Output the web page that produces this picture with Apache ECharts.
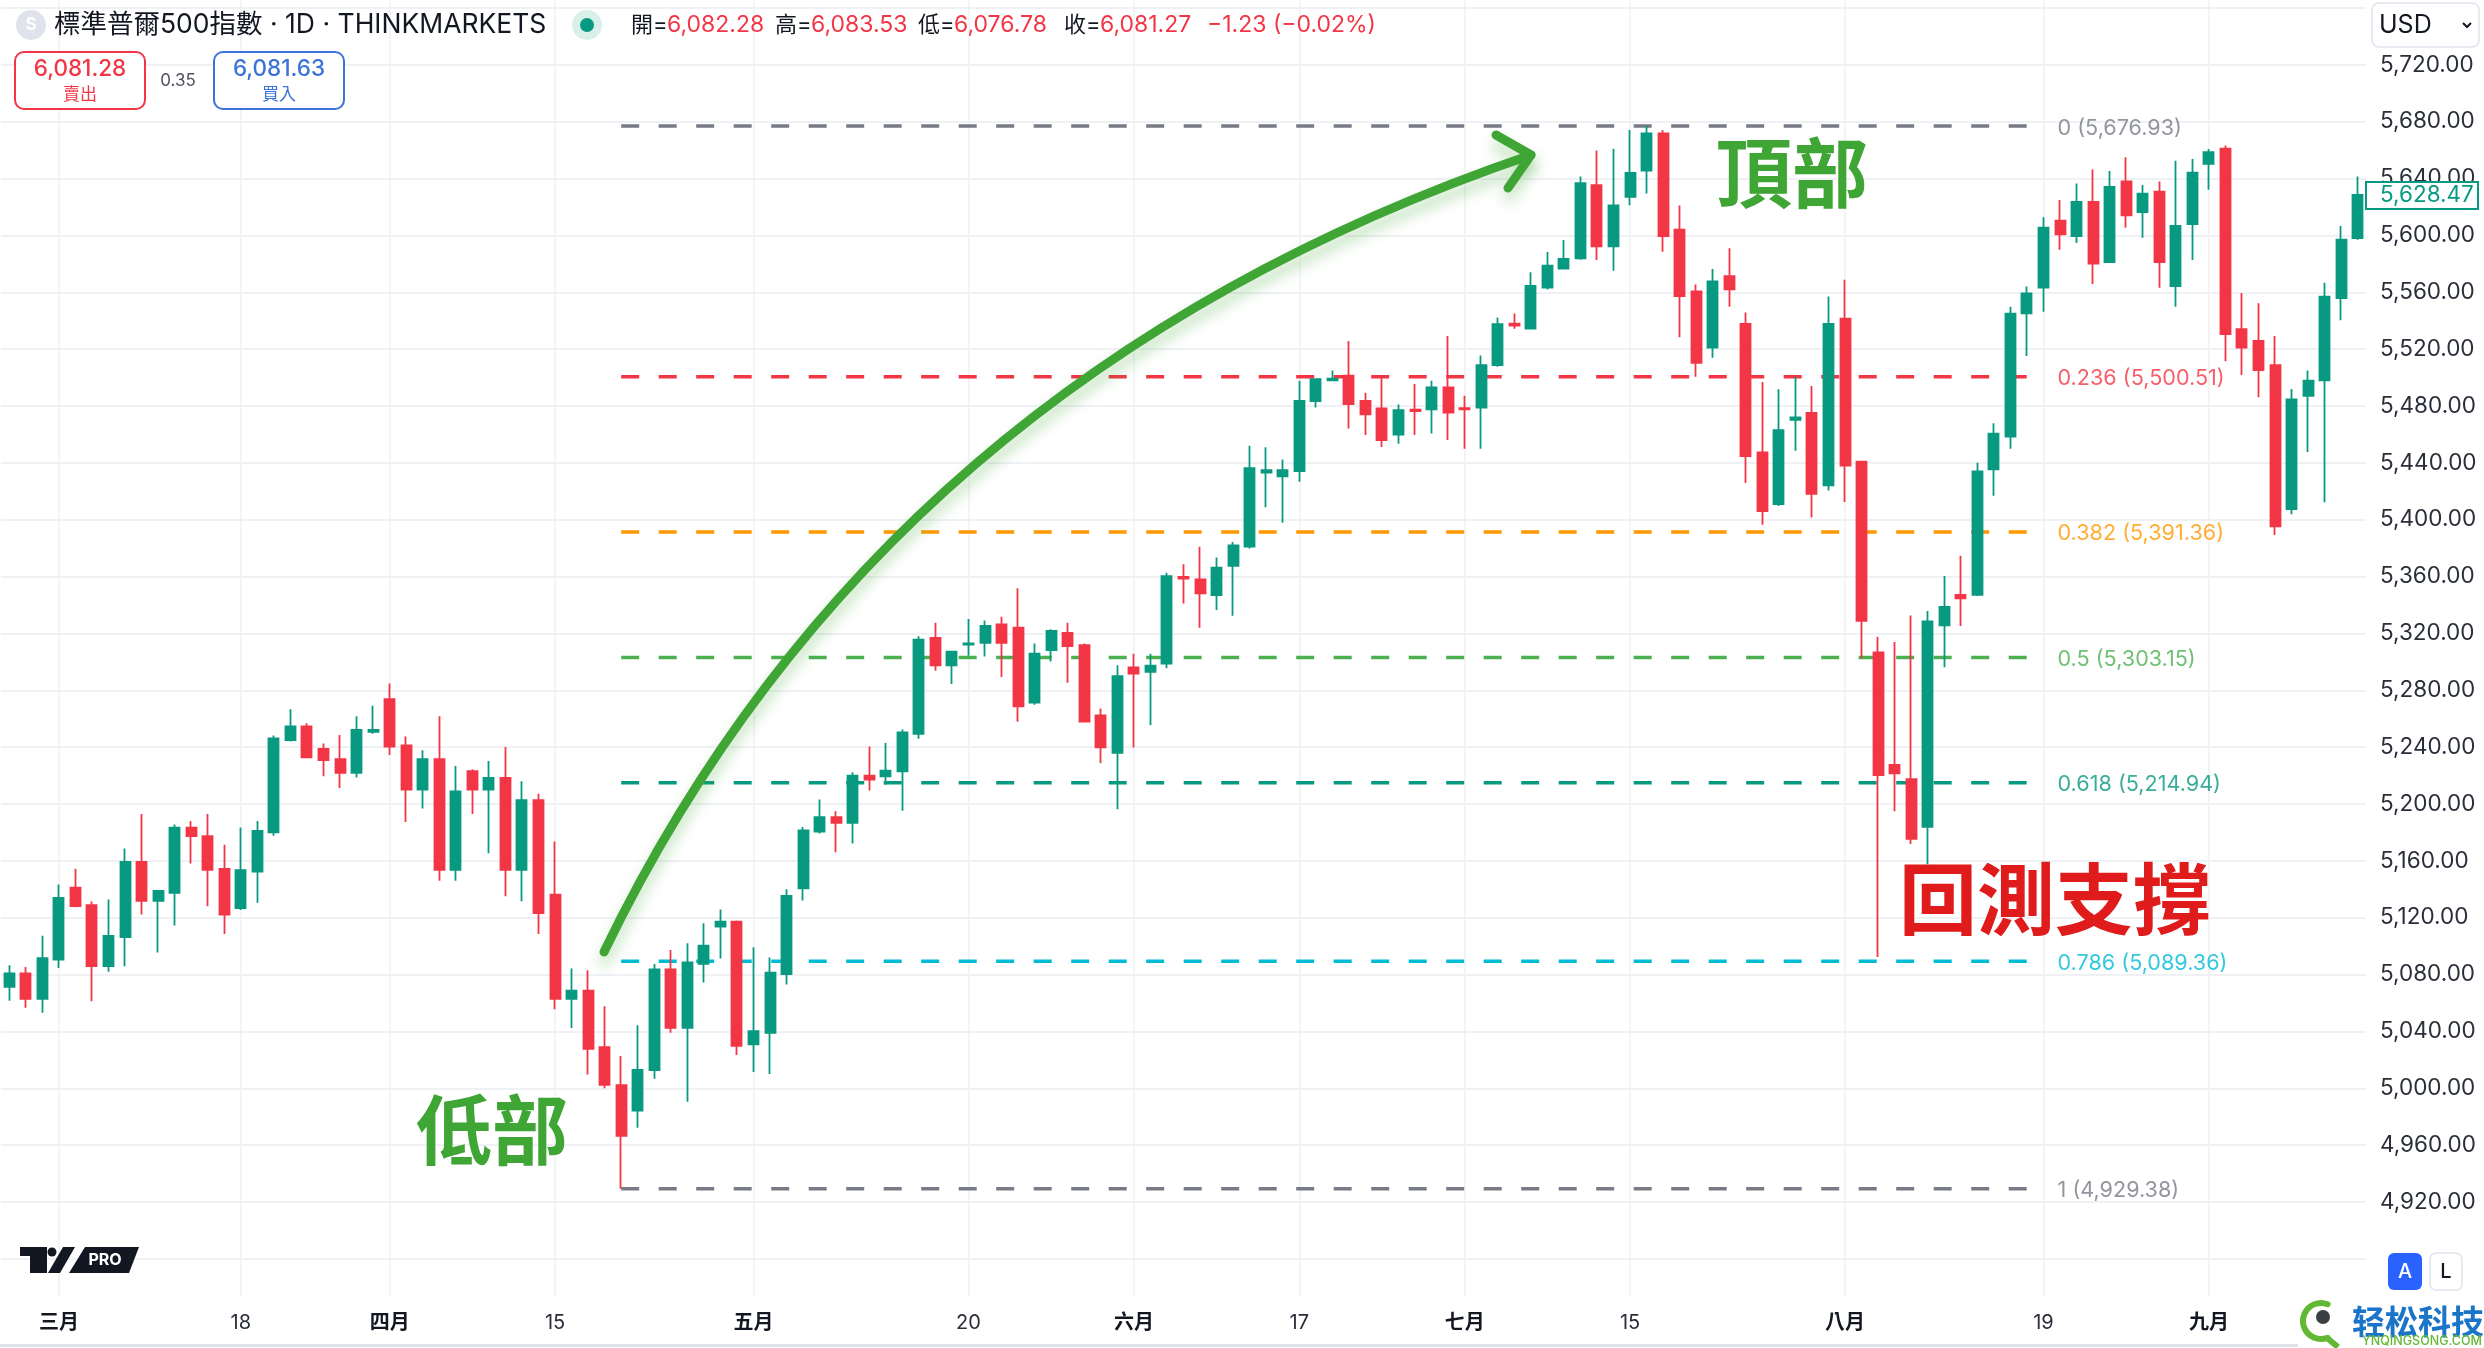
<!DOCTYPE html>
<html>
  <head>
    <meta charset="utf-8" />
    <title>標準普爾500指數 1D</title>
    <script src="https://cdn.jsdelivr.net/npm/echarts@6/dist/echarts.min.js"></script>
    <style>
      html, body { margin: 0; padding: 0; background: #fff; }
    </style>
  </head>
  <body>
    <div id="main" style="width: 2484px; height: 1348px"></div>
    <script type="text/javascript">
      // daily candles
      const opens = [
        5071.3, 5080.8, 5062.9, 5090.5, 5141.1, 5128.8, 5085.9, 5106.3, 5159.3, 5131.9,
        5137.5, 5183.3, 5177.4, 5154.4, 5126.8, 5152.4, 5180, 5244.9, 5254.6, 5238.8,
        5231.6, 5221.9, 5250.8, 5273.8, 5241.3, 5210.1, 5231.6, 5153.6, 5223.2, 5210.1,
        5218.3, 5153.6, 5202.7, 5136.2, 5062.9, 5068.7, 5028.9, 5002.3, 4984.4, 5012.9,
        5083.7, 5042.6, 5087.6, 5113.8, 5117.3, 5030.9, 5039.1, 5080.3, 5140.7, 5180.6,
        5190.8, 5186.7, 5220, 5219.4, 5222.9, 5249.4, 5316.8, 5297.6, 5312.1, 5313.3,
        5326.4, 5324.1, 5271.3, 5308.3, 5320.3, 5311.8, 5262.3, 5236, 5296.1, 5292.9,
        5298.7, 5359.7, 5358, 5347, 5367.6, 5381, 5433.1, 5430.5, 5434.2, 5483.5,
        5498, 5501.3, 5483.5, 5478.3, 5459.8, 5477.4, 5477.6, 5493.1, 5478.5, 5478.8,
        5508.8, 5537.9, 5534.4, 5563.2, 5576.6, 5583.8, 5635.4, 5592.3, 5627.2, 5645.5,
        5671.8, 5604, 5560.6, 5521, 5571.4, 5537.7, 5447.3, 5410.9, 5470.3, 5475.1,
        5424.2, 5541.4, 5440.8, 5306.7, 5227.6, 5217.5, 5184, 5325.7, 5347.1, 5347.1,
        5435.4, 5458.4, 5545.1, 5563.2, 5610.3, 5599.5, 5623.5, 5581.2, 5638, 5616.4,
        5630.7, 5564.4, 5608, 5650.4, 5661, 5534.1, 5525.7, 5508.8, 5407.5, 5487.2,
        5498, 5555.9, 5598.1
      ];
      const closes = [
        5080.8, 5062.9, 5091.5, 5133.9, 5128.1, 5085.9, 5107.3, 5159.3, 5131.9, 5138.8,
        5183.3, 5177.4, 5153.6, 5122.2, 5153.4, 5181, 5246.2, 5254.6, 5232.9, 5230.9,
        5221.9, 5252.1, 5252.1, 5240.3, 5210.1, 5231.6, 5153.6, 5208.9, 5210.1, 5218.3,
        5153.6, 5202.7, 5123.2, 5062.9, 5068.7, 5027.8, 5002.5, 4966.5, 5013, 5083.7,
        5042.6, 5088.6, 5100.4, 5117.3, 5029.8, 5040.3, 5081.3, 5135.4, 5181.5, 5190.8,
        5186.7, 5220, 5217.1, 5223.5, 5250.3, 5315.6, 5297.6, 5307.2, 5313, 5325.3,
        5313.3, 5268.7, 5305.7, 5321.8, 5311, 5257.9, 5239.8, 5290, 5291.7, 5297.3,
        5360.3, 5358.5, 5348.2, 5366.2, 5381.9, 5436.3, 5434.9, 5434.9, 5483.5, 5498.9,
        5499.2, 5481.4, 5474.1, 5456, 5477.1, 5476.4, 5493.1, 5475.3, 5477.6, 5508.8,
        5537.6, 5536.5, 5564.4, 5578.7, 5583.4, 5636.8, 5592.3, 5621.1, 5643.9, 5671.8,
        5599.5, 5557.3, 5510.4, 5567.6, 5562, 5444.8, 5406.1, 5463, 5471.9, 5418.2,
        5537.7, 5438, 5328.9, 5220.3, 5221.5, 5175.5, 5328.5, 5338.6, 5344.7, 5433.9,
        5460.5, 5544.9, 5559.2, 5605.4, 5600.7, 5623.5, 5580.1, 5634.2, 5614.1, 5629.3,
        5581.2, 5606.6, 5644.1, 5658.6, 5530.6, 5521, 5505.3, 5395.3, 5484.6, 5497.8,
        5556.9, 5597, 5628.47
      ];
      const lows = [
        5061.6, 5056.7, 5053.1, 5084.6, 5127.3, 5061.3, 5082, 5085.9, 5122.2, 5095.6,
        5114.5, 5158.2, 5128.1, 5108.6, 5125.5, 5130.6, 5177.7, 5243.9, 5232.9, 5219.6,
        5211.2, 5218.6, 5249.5, 5234.4, 5187.4, 5196.8, 5146, 5146, 5193, 5165.4,
        5135.2, 5131.6, 5108.6, 5055.7, 5042.4, 5009.7, 5000, 4929.4, 4972.3, 5006.8,
        5039.1, 4990.6, 5074.5, 5091.4, 5023.4, 5011.5, 5010, 5073, 5132.2, 5179.2,
        5166, 5172.2, 5209.5, 5213.6, 5195.2, 5245.9, 5293.8, 5284.4, 5304.3, 5303.7,
        5289.4, 5257.9, 5269.9, 5300.2, 5285.3, 5257.3, 5228.7, 5196.4, 5239.8, 5255.6,
        5295.5, 5341, 5324, 5336.5, 5332.5, 5379.8, 5408.7, 5397.9, 5426.7, 5479,
        5498, 5464.2, 5459.6, 5451.1, 5453.5, 5459.6, 5460.7, 5456, 5449.9, 5449.9,
        5507.6, 5534.4, 5533.9, 5562, 5576.6, 5582.9, 5582.7, 5575.2, 5621.3, 5629.5,
        5588.5, 5528.3, 5500.6, 5514, 5549.8, 5425.9, 5396.4, 5409.7, 5448.5, 5401.6,
        5420.6, 5412.5, 5302.7, 5092.3, 5194.9, 5171.9, 5157.7, 5296.2, 5325.3, 5346.3,
        5416.9, 5449.9, 5515.1, 5546.3, 5589.9, 5594.6, 5565.8, 5580.8, 5605.4, 5598.4,
        5563.2, 5549.8, 5582.7, 5632.1, 5511.4, 5501.8, 5486.1, 5389.2, 5403.8, 5447.6,
        5412.2, 5540.4, 5597
      ];
      const highs = [
        5086.6, 5085.4, 5107.3, 5143.4, 5154.4, 5131.4, 5132.9, 5168.7, 5193, 5138.8,
        5185.6, 5188.1, 5193, 5171.3, 5183.5, 5188.1, 5248.2, 5266.6, 5256.9, 5242.6,
        5248.5, 5261.8, 5269.2, 5284.8, 5247.5, 5237.8, 5261.8, 5226.8, 5224.5, 5230.3,
        5240.1, 5216, 5207.3, 5173.6, 5084.3, 5083.1, 5057.7, 5022.7, 5044.4, 5087.4,
        5097.3, 5102, 5116.2, 5125.8, 5118, 5099.2, 5092.1, 5140.1, 5183.8, 5203.1,
        5194.9, 5222.3, 5240.4, 5243, 5252.4, 5318, 5327.6, 5307.2, 5330.2, 5329.1,
        5331.7, 5351.8, 5313, 5322.9, 5327.6, 5313, 5267.2, 5297.6, 5305.7, 5305.7,
        5362.6, 5368.7, 5381, 5373.5, 5384.3, 5452.1, 5450.9, 5442.4, 5497.8, 5499.4,
        5505, 5525.7, 5489.3, 5500.6, 5481.1, 5495.4, 5497.8, 5529.2, 5487.2, 5515.6,
        5542.3, 5545.1, 5574, 5588.3, 5596.7, 5641.5, 5659.8, 5661, 5674.1, 5676.9,
        5674.1, 5621.1, 5565.5, 5576.3, 5590.9, 5545.8, 5496.9, 5491.7, 5500.6, 5494.1,
        5557.1, 5568.8, 5440.8, 5317.6, 5314, 5332.6, 5335.8, 5360.4, 5374.6, 5440,
        5467.8, 5549.8, 5564.1, 5612.7, 5624.9, 5636.6, 5646.4, 5645.3, 5654.9, 5635.4,
        5638, 5652.5, 5653.7, 5660.7, 5663.3, 5559.4, 5552.2, 5529.2, 5491.9, 5505,
        5566.7, 5606.6, 5641.5
      ];

      // time axis
      const tickIndex = [3, 14, 23, 33, 45, 58, 68, 78, 88, 98, 111, 123, 133];
      const tickLabels = ['三月', '18', '四月', '15', '五月', '20', '六月', '17', '七月', '15', '八月', '19', '九月'];

      // price axis
      const priceGrid = [4880, 4920, 4960, 5000, 5040, 5080, 5120, 5160, 5200, 5240, 5280, 5320, 5360,
        5400, 5440, 5480, 5520, 5560, 5600, 5640, 5680, 5720, 5760];
      const priceLabels = [4920, 4960, 5000, 5040, 5080, 5120, 5160, 5200, 5240, 5280, 5320, 5360,
        5400, 5440, 5480, 5520, 5560, 5600, 5640, 5680, 5720];

      // fibonacci retracement
      const fibRatios = ['0', '0.236', '0.382', '0.5', '0.618', '0.786', '1'];
      const fibPrices = [5676.93, 5500.51, 5391.36, 5303.15, 5214.94, 5089.36, 4929.38];
      const fibColors = ['#787b86', '#f23645', '#ff9800', '#4caf50', '#089981', '#00bcd4', '#787b86'];
      const fibStart = 37;
      const fibEnd = 122.7;

      const UP = '#089981';
      const DOWN = '#f23645';
      const INK = '#131722';
      const FONT = 'Inter, "Noto Sans CJK TC", sans-serif';

      const categories = opens.map(function (v, i) {
        const k = tickIndex.indexOf(i);
        return k >= 0 ? tickLabels[k] : '';
      });
      const candles = opens.map(function (v, i) {
        return [v, closes[i], lows[i], highs[i]];
      });
      const showTick = function (i) {
        return tickIndex.indexOf(i) >= 0;
      };

      function money(v) {
        return v.toLocaleString('en-US', { minimumFractionDigits: 2, maximumFractionDigits: 2 });
      }

      const fibSeries = fibPrices.map(function (p, i) {
        return {
          type: 'line',
          xAxisIndex: 1,
          yAxisIndex: 0,
          z: 1,
          silent: true,
          showSymbol: false,
          symbol: 'none',
          clip: false,
          data: [[fibStart, p], [fibEnd, p]],
          lineStyle: { color: fibColors[i], width: 3.5, type: [18, 19.5] },
          endLabel: {
            show: true,
            distance: 19,
            offset: [0, 2],
            color: fibColors[i],
            opacity: 0.8,
            fontFamily: FONT,
            fontSize: 21.6,
            formatter: fibRatios[i] + ' (' + money(p) + ')'
          }
        };
      });

      function txt(text, x, y, font, fill, align, extra) {
        return {
          type: 'text',
          z: 100,
          style: Object.assign({
            text: text, x: x, y: y, font: font + ' ' + FONT, fill: fill,
            textAlign: align || 'left', textVerticalAlign: 'middle'
          }, extra || {})
        };
      }
      function box(x, y, w, h, r, fill, stroke, lw) {
        return {
          type: 'rect', z: 99,
          shape: { x: x, y: y, width: w, height: h, r: r },
          style: { fill: fill, stroke: stroke, lineWidth: lw || 0 }
        };
      }
      const glow = { shadowBlur: 14, shadowColor: 'rgba(63,165,53,0.45)', shadowOffsetY: 10 };
      const arrowStyle = { stroke: '#3fa535', fill: null, lineWidth: 9, lineCap: 'round', lineJoin: 'round',
        shadowBlur: 14, shadowColor: 'rgba(63,165,53,0.35)', shadowOffsetY: 10 };

      const deco = [
        // header
        { type: 'circle', z: 99, shape: { cx: 31, cy: 25, r: 15 }, style: { fill: '#e0e3eb' } },
        txt('S', 31, 25, '700 17px', '#ffffff', 'center'),
        txt('標準普爾500指數 · 1D · THINKMARKETS', 54, 25, '400 26.5px', INK),
        { type: 'circle', z: 99, shape: { cx: 587, cy: 25, r: 15 }, style: { fill: '#d9f0ea' } },
        { type: 'circle', z: 99, shape: { cx: 587, cy: 25, r: 7 }, style: { fill: UP } },
        txt('開=', 631, 25, '400 22px', INK),
        txt('6,082.28', 667, 25, '400 23px', DOWN),
        txt('高=', 775, 25, '400 22px', INK),
        txt('6,083.53', 811, 25, '400 23px', DOWN),
        txt('低=', 918, 25, '400 22px', INK),
        txt('6,076.78', 954, 25, '400 23px', DOWN),
        txt('收=', 1064, 25, '400 22px', INK),
        txt('6,081.27', 1100, 25, '400 23px', DOWN),
        txt('−1.23 (−0.02%)', 1207, 25, '400 23px', DOWN),
        // sell / buy
        box(15, 52, 130, 57, 9, '#ffffff', DOWN, 2),
        txt('6,081.28', 80, 69, '500 22.5px', DOWN, 'center'),
        txt('賣出', 80, 95, '400 17px', DOWN, 'center'),
        txt('0.35', 178, 81, '400 17px', '#50535e', 'center'),
        box(214, 52, 130, 57, 9, '#ffffff', '#3b73d9', 2),
        txt('6,081.63', 279, 69, '500 22.5px', '#3b73d9', 'center'),
        txt('買入', 279, 95, '400 17px', '#3b73d9', 'center'),
        // currency button
        box(2372, 3, 107, 44, 7, '#ffffff', '#e0e3eb', 1.5),
        txt('USD', 2379, 25, '400 25px', INK),
        { type: 'polyline', z: 100, shape: { points: [[2463, 23], [2467, 27], [2471, 23]] },
          style: { stroke: INK, fill: null, lineWidth: 2 } },
        // last price tag
        box(2366, 182, 112, 27, 0, '#ffffff', UP, 2),
        txt(money(closes[closes.length - 1]), 2380, 195.5, '400 22.5px', UP),
        // trend arrow
        { type: 'bezierCurve', z: 90, shape: { x1: 604, y1: 952, cpx1: 790, cpy1: 567, cpx2: 1099, cpy2: 302, x2: 1531, y2: 155 },
          style: arrowStyle },
        { type: 'polyline', z: 90, shape: { points: [[1496, 135], [1531, 155], [1508, 188]] }, style: arrowStyle },
        // hand written notes
        txt('頂部', 1792, 179, '700 76px', '#3fa535', 'center', glow),
        txt('低部', 492, 1136, '700 76px', '#3fa535', 'center', glow),
        txt('回測支撐', 2055, 906, '700 78px', '#e01b1b', 'center'),
        // tradingview logo
        { type: 'polygon', z: 99, shape: { points: [[20, 1247], [47, 1247], [47, 1273], [30, 1273], [30, 1256], [20, 1256]] }, style: { fill: INK } },
        { type: 'circle', z: 99, shape: { cx: 52, cy: 1252, r: 4.5 }, style: { fill: INK } },
        { type: 'polygon', z: 99, shape: { points: [[63, 1247], [75, 1247], [60, 1273], [48, 1273]] }, style: { fill: INK } },
        { type: 'polygon', z: 99, shape: { points: [[85, 1247], [139, 1247], [129, 1273], [69, 1273]] }, style: { fill: INK } },
        txt('PRO', 105, 1260, '700 16px', '#ffffff', 'center'),
        // A / L buttons
        box(2388, 1253, 34, 37, 6, '#2962ff', '#2962ff', 0),
        txt('A', 2405, 1272, '500 20px', '#ffffff', 'center'),
        box(2430, 1253, 32, 37, 6, '#ffffff', '#e0e3eb', 1.5),
        txt('L', 2446, 1272, '500 20px', INK, 'center'),
        // bottom rule + site mark
        box(0, 1344, 2484, 3, 0, '#e0e3eb', '#e0e3eb', 0),
        box(2298, 1298, 186, 50, 0, '#ffffff', '#ffffff', 0),
        { type: 'arc', z: 100, shape: { cx: 2321, cy: 1321, r: 18, startAngle: Math.PI * 0.38, endAngle: Math.PI * 1.62, clockwise: true },
          style: { fill: null, stroke: '#62b833', lineWidth: 6, lineCap: 'round' } },
        { type: 'polyline', z: 100, shape: { points: [[2327, 1338], [2338, 1347]] }, style: { fill: null, stroke: '#62b833', lineWidth: 6 } },
        { type: 'circle', z: 100, shape: { cx: 2323, cy: 1317, r: 7 }, style: { fill: '#3a3f45' } },
        txt('轻松科技', 2418, 1321, '700 33px', '#1a74c8', 'center', { font: '700 33px "Noto Sans CJK SC", sans-serif' }),
        txt('YNQINGSONG.COM', 2422, 1341, '500 12.5px', '#62b833', 'center')
      ];

      const option = {
        backgroundColor: '#ffffff',
        animation: false,
        grid: { left: 1, top: 0, width: 2365, height: 1296 },
        xAxis: [
          {
            type: 'category',
            data: categories,
            boundaryGap: true,
            axisLine: { show: false },
            axisTick: { show: false, alignWithLabel: true, interval: showTick },
            axisLabel: {
              interval: showTick,
              margin: 17,
              formatter: function (v) {
                return v.indexOf('月') >= 0 ? '{m|' + v + '}' : '{d|' + v + '}';
              },
              rich: {
                m: { fontFamily: FONT, fontSize: 20, fontWeight: 600, color: INK },
                d: { fontFamily: FONT, fontSize: 20, color: '#2a2e39' }
              }
            },
            splitLine: { show: true, alignWithLabel: true, interval: showTick, lineStyle: { color: '#f0f1f5', width: 1.5 } }
          },
          { type: 'value', min: -0.5, max: 142.5, show: false, splitLine: { show: false } }
        ],
        yAxis: {
          type: 'value',
          position: 'right',
          min: 4853.9,
          max: 5765.6,
          axisLine: { show: false },
          axisTick: { show: false, customValues: priceGrid },
          splitLine: { show: true, lineStyle: { color: '#f0f1f5', width: 2 } },
          axisLabel: {
            customValues: priceLabels,
            margin: 14,
            color: '#2a2e39',
            fontFamily: FONT,
            fontSize: 22.5,
            formatter: function (v) {
              return money(v);
            }
          }
        },
        series: [
          {
            type: 'candlestick',
            z: 5,
            silent: true,
            barWidth: 10.5,
            data: candles,
            itemStyle: { color: UP, color0: DOWN, borderColor: UP, borderColor0: DOWN, borderWidth: 1.8 }
          }
        ].concat(fibSeries),
        graphic: { elements: deco }
      };

      var myChart = echarts.init(document.getElementById('main'));
      myChart.setOption(option);
    </script>
  </body>
</html>
